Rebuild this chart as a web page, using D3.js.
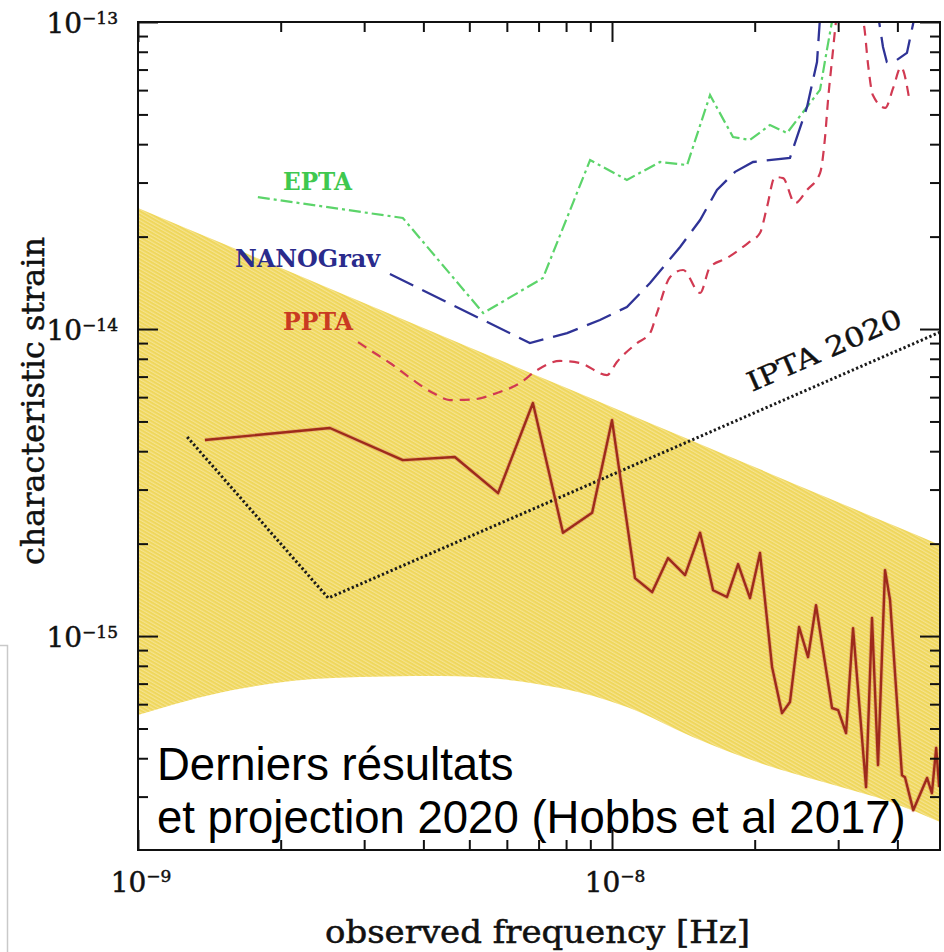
<!DOCTYPE html>
<html lang="fr">
<head>
<meta charset="utf-8">
<title>Characteristic strain vs observed frequency</title>
<script src="https://cdn.jsdelivr.net/npm/d3@7/dist/d3.min.js"></script>
<style>
  html, body { margin: 0; padding: 0; background: #ffffff; }
  svg { display: block; }
</style>
</head>
<body>
<svg id="chart" width="944" height="952"></svg>
<script>
// ---------------- Data: frequency in Hz, characteristic strain ----------------

const freqDomain = [1e-9, 4.92e-8];
const strainDomain = [2.01e-16, 1e-13];

// Current upper limit (solid dark red)
const limitFreq = [1.384e-9, 2.54e-9, 3.62e-9, 4.66e-9, 5.75e-9, 6.81e-9, 7.88e-9, 9.08e-9, 1.0e-8,
  1.118e-8, 1.215e-8, 1.313e-8, 1.426e-8, 1.534e-8, 1.634e-8, 1.748e-8, 1.845e-8, 1.955e-8, 2.052e-8,
  2.176e-8, 2.284e-8, 2.374e-8, 2.481e-8, 2.592e-8, 2.694e-8, 2.912e-8, 3.0e-8, 3.117e-8, 3.225e-8,
  3.435e-8, 3.536e-8, 3.641e-8, 3.767e-8, 3.86e-8, 4.09e-8, 4.15e-8, 4.32e-8, 4.62e-8, 4.73e-8,
  4.83e-8, 4.9e-8];
const limitStrain = [4.35e-15, 4.76e-15, 3.74e-15, 3.83e-15, 2.92e-15, 5.74e-15, 2.17e-15, 2.52e-15, 5.05e-15,
  1.545e-15, 1.39e-15, 1.795e-15, 1.58e-15, 2.17e-15, 1.41e-15, 1.34e-15, 1.716e-15, 1.33e-15, 1.865e-15,
  7.93e-16, 5.61e-16, 6.10e-16, 1.07e-15, 8.54e-16, 1.26e-15, 5.83e-16, 5.74e-16, 4.83e-16, 1.06e-15,
  3.22e-16, 1.145e-15, 3.80e-16, 1.64e-15, 1.31e-15, 3.52e-16, 3.47e-16, 2.71e-16, 3.45e-16, 3.08e-16,
  4.32e-16, 3.22e-16];

// PPTA (short dashes)
const pptaFreq = [2.912e-9, 3.087e-9, 3.401e-9, 3.804e-9, 4.193e-9, 4.55e-9, 5.09e-9, 5.72e-9, 6.40e-9,
  6.95e-9, 7.77e-9, 8.56e-9, 9.76e-9, 1.024e-8, 1.129e-8, 1.203e-8, 1.244e-8, 1.326e-8, 1.412e-8,
  1.534e-8, 1.61e-8, 1.748e-8, 1.936e-8, 2.052e-8, 2.123e-8, 2.207e-8, 2.295e-8, 2.433e-8, 2.579e-8,
  2.747e-8, 2.815e-8, 2.856e-8, 2.912e-8, 2.984e-8, 3.18e-8, 3.40e-8, 3.47e-8, 3.55e-8, 3.77e-8,
  3.92e-8, 4.07e-8, 4.25e-8];
const pptaStrain = [9.07e-15, 8.54e-15, 7.75e-15, 6.82e-15, 6.19e-15, 5.87e-15, 5.90e-15, 6.19e-15, 6.67e-15,
  7.35e-15, 7.87e-15, 7.75e-15, 7.08e-15, 7.81e-15, 9.00e-15, 9.70e-15, 1.127e-14, 1.477e-14, 1.557e-14,
  1.31e-14, 1.592e-14, 1.703e-14, 1.906e-14, 2.055e-14, 2.497e-14, 3.127e-14, 3.10e-14, 2.57e-14, 2.836e-14,
  3.22e-14, 4.22e-14, 5.57e-14, 7.52e-14, 1.05e-13, 1.3e-13, 9.78e-14, 7.24e-14, 5.78e-14, 5.25e-14,
  6.10e-14, 7.13e-14, 5.45e-14];

// NANOGrav (long dashes)
const nanogravFreq = [3.40e-9, 6.71e-9, 8.04e-9, 9.43e-9, 1.075e-8, 1.203e-8, 1.392e-8, 1.534e-8, 1.665e-8,
  1.818e-8, 1.984e-8, 2.374e-8, 2.579e-8, 2.707e-8, 2.75e-8, 3.18e-8, 3.64e-8, 3.73e-8, 3.80e-8,
  3.99e-8, 4.19e-8, 4.36e-8];
const nanogravStrain = [1.51e-14, 9.00e-15, 9.70e-15, 1.07e-14, 1.18e-14, 1.412e-14, 1.85e-14, 2.265e-14, 2.836e-14,
  3.25e-14, 3.50e-14, 3.61e-14, 5.29e-14, 7.41e-14, 1.06e-13, 1.4e-13, 1.06e-13, 8.29e-14, 7.41e-14,
  7.52e-14, 7.93e-14, 1.06e-13];

// EPTA (dash-dot)
const eptaFreq = [1.79e-9, 3.62e-9, 5.35e-9, 7.15e-9, 8.99e-9, 1.075e-8, 1.263e-8, 1.44e-8, 1.61e-8,
  1.80e-8, 1.955e-8, 2.154e-8, 2.34e-8, 2.579e-8, 2.747e-8, 2.84e-8, 2.93e-8];
const eptaStrain = [2.69e-14, 2.30e-14, 1.127e-14, 1.466e-14, 3.55e-14, 3.06e-14, 3.50e-14, 3.42e-14, 5.78e-14,
  4.22e-14, 4.13e-14, 4.62e-14, 4.35e-14, 5.29e-14, 6.01e-14, 8.10e-14, 1.06e-13];

// IPTA 2020 projected sensitivity (dotted)
const iptaFreq = [1.27e-9, 2.52e-9, 4.92e-8];
const iptaStrain = [4.45e-15, 1.33e-15, 9.77e-15];

// Predicted background band: upper edge and lower edge
const bandUpperFreq = [1e-9, 4.92e-8];
const bandUpperStrain = [2.48e-14, 1.98e-15];
const bandLowerFreq = [1.0e-9, 1.586e-9, 2.58e-9, 4.34e-9, 7.77e-9, 1.075e-8, 1.48e-8, 2.052e-8, 2.84e-8, 3.92e-8, 4.92e-8];
const bandLowerStrain = [5.53e-16, 6.67e-16, 7.30e-16, 7.41e-16, 6.77e-16, 5.87e-16, 4.69e-16, 3.86e-16, 3.32e-16, 2.86e-16, 2.48e-16];

// Ticks and labels
const xMajorTicks = [1e-9, 1e-8];
const xTickExponents = ["\u22129", "\u22128"];
const xMinorTicks = [2e-9, 3e-9, 4e-9, 5e-9, 6e-9, 7e-9, 8e-9, 9e-9, 2e-8, 3e-8, 4e-8];
const yMajorTicks = [1e-13, 1e-14, 1e-15];
const yTickExponents = ["\u221213", "\u221214", "\u221215"];
const yMinorTicks = [9e-14, 8e-14, 7e-14, 6e-14, 5e-14, 4e-14, 3e-14, 2e-14,
  9e-15, 8e-15, 7e-15, 6e-15, 5e-15, 4e-15, 3e-15, 2e-15,
  9e-16, 8e-16, 7e-16, 6e-16, 5e-16, 4e-16, 3e-16];

const seriesLabels = ["EPTA", "NANOGrav", "PPTA"];
const projectionLabel = "IPTA 2020";
const xTitle = "observed frequency [Hz]";
const yTitle = "characteristic strain";
const noteLines = ["Derniers r\u00e9sultats", "et projection 2020 (Hobbs et al 2017)"];

// ---------------- Layout ----------------
const plot = { left: 138, right: 940, top: 22, bottom: 850 };
const serif = "'DejaVu Serif', 'Liberation Serif', serif";
const sans = "'Liberation Sans', Arial, sans-serif";

const svg = d3.select("#chart");

const x = d3.scaleLog().domain(freqDomain).range([plot.left, plot.right]);
const y = d3.scaleLog().domain(strainDomain).range([plot.bottom, plot.top]);

const zip = (fs, hs) => fs.map((f, i) => [f, hs[i]]);
const line = d3.line().x(d => x(d[0])).y(d => y(d[1]));

const defs = svg.append("defs");
defs.append("clipPath").attr("id", "plot-clip")
  .append("rect")
  .attr("x", plot.left).attr("y", plot.top)
  .attr("width", plot.right - plot.left).attr("height", plot.bottom - plot.top);

// fine diagonal hatching used inside the band
const hatch = defs.append("pattern").attr("id", "band-hatch")
  .attr("patternUnits", "userSpaceOnUse").attr("width", 3.2).attr("height", 3.2)
  .attr("patternTransform", "rotate(-60)");
hatch.append("rect").attr("width", 3.2).attr("height", 3.2).attr("fill", "#efd75c");
hatch.append("line").attr("x1", 0.6).attr("y1", 0).attr("x2", 0.6).attr("y2", 3.2)
  .attr("stroke", "#f6e494").attr("stroke-width", 1.1);

// faint frame of a neighbouring panel at the left edge
svg.append("path")
  .attr("d", "M0,645.5 H7.5 V952")
  .attr("fill", "none").attr("stroke", "#c9c9c9").attr("stroke-width", 1.5);

const g = svg.append("g").attr("clip-path", "url(#plot-clip)");

// band between the two edges
const upper = zip(bandUpperFreq, bandUpperStrain);
const lower = zip(bandLowerFreq, bandLowerStrain);
const upperAt = f => {
  const t = (Math.log10(f) - Math.log10(upper[0][0])) / (Math.log10(upper[1][0]) - Math.log10(upper[0][0]));
  return Math.pow(10, Math.log10(upper[0][1]) + t * (Math.log10(upper[1][1]) - Math.log10(upper[0][1])));
};
const bandArea = d3.area()
  .x(d => x(d[0]))
  .y0(d => y(d[1]))
  .y1(d => y(upperAt(d[0])))
  .curve(d3.curveMonotoneX);
g.append("path").datum(lower)
  .attr("d", bandArea)
  .attr("fill", "url(#band-hatch)");

// IPTA 2020 dotted projection
g.append("path").datum(zip(iptaFreq, iptaStrain))
  .attr("d", line)
  .attr("fill", "none").attr("stroke", "#1a1a1a")
  .attr("stroke-width", 3).attr("stroke-dasharray", "2.3,2.4");

// EPTA
g.append("path").datum(zip(eptaFreq, eptaStrain))
  .attr("d", line)
  .attr("fill", "none").attr("stroke", "#5cd46a")
  .attr("stroke-width", 2.2).attr("stroke-dasharray", "12,4,3,4");

// NANOGrav
g.append("path").datum(zip(nanogravFreq, nanogravStrain))
  .attr("d", line)
  .attr("fill", "none").attr("stroke", "#2f3396")
  .attr("stroke-width", 2.3).attr("stroke-dasharray", "26,10");

// PPTA
g.append("path").datum(zip(pptaFreq, pptaStrain))
  .attr("d", d3.line().x(d => x(d[0])).y(d => y(d[1])).curve(d3.curveMonotoneX))
  .attr("fill", "none").attr("stroke", "#d13a52")
  .attr("stroke-width", 2.2).attr("stroke-dasharray", "10,7");

// current limit
g.append("path").datum(zip(limitFreq, limitStrain))
  .attr("d", line)
  .attr("fill", "none").attr("stroke", "#d06a4a").attr("stroke-opacity", 0.35)
  .attr("stroke-width", 4.2).attr("stroke-linejoin", "round");
g.append("path").datum(zip(limitFreq, limitStrain))
  .attr("d", line)
  .attr("fill", "none").attr("stroke", "#9e2a1c")
  .attr("stroke-width", 2.4).attr("stroke-linejoin", "round");

// curve labels
const labelStyle = [
  { text: seriesLabels[0], x: 283, y: 190, len: 69, fill: "#3fc84f" },
  { text: seriesLabels[1], x: 235, y: 267, len: 145, fill: "#2a2b8c" },
  { text: seriesLabels[2], x: 283, y: 330, len: 70, fill: "#c93a22" }
];
labelStyle.forEach(s => {
  svg.append("text")
    .attr("x", s.x).attr("y", s.y)
    .attr("font-family", serif).attr("font-weight", "bold").attr("font-size", 24)
    .attr("textLength", s.len).attr("lengthAdjust", "spacingAndGlyphs")
    .attr("fill", s.fill).text(s.text);
});

svg.append("text")
  .attr("transform", "translate(752,392) rotate(-23.6)")
  .attr("font-family", serif).attr("font-size", 27)
  .attr("textLength", 166).attr("lengthAdjust", "spacingAndGlyphs")
  .attr("fill", "#111").attr("stroke", "#111").attr("stroke-width", 0.4)
  .text(projectionLabel);

// frame
svg.append("rect")
  .attr("x", plot.left).attr("y", plot.top)
  .attr("width", plot.right - plot.left).attr("height", plot.bottom - plot.top)
  .attr("fill", "none").attr("stroke", "#111").attr("stroke-width", 2);

// inward ticks on all four sides
function ticks(axis, transform, values, size) {
  svg.append("g").attr("transform", transform)
    .call(axis.tickValues(values).tickSize(size).tickFormat(() => ""))
    .call(a => a.select(".domain").remove())
    .call(a => a.selectAll("line").attr("stroke", "#111").attr("stroke-width", 2));
}
ticks(d3.axisBottom(x), `translate(0,${plot.bottom})`, xMinorTicks, -10);
ticks(d3.axisBottom(x), `translate(0,${plot.bottom})`, xMajorTicks, -20);
ticks(d3.axisTop(x), `translate(0,${plot.top})`, xMinorTicks, -10);
ticks(d3.axisTop(x), `translate(0,${plot.top})`, xMajorTicks, -20);
ticks(d3.axisLeft(y), `translate(${plot.left},0)`, yMinorTicks, -10);
ticks(d3.axisLeft(y), `translate(${plot.left},0)`, yMajorTicks, -20);
ticks(d3.axisRight(y), `translate(${plot.right},0)`, yMinorTicks, -10);
ticks(d3.axisRight(y), `translate(${plot.right},0)`, yMajorTicks, -20);

// tick labels: 10 with superscript exponent
const inkStroke = sel => sel.attr("fill", "#111").attr("stroke", "#111").attr("stroke-width", 0.5);
xMajorTicks.forEach((v, i) => {
  const t = svg.append("text")
    .attr("x", x(v) + 3).attr("y", 892)
    .attr("text-anchor", "middle")
    .attr("font-family", serif).attr("font-size", 28).call(inkStroke);
  t.append("tspan").text("10");
  t.append("tspan").attr("dy", -10).attr("font-size", 17).text(xTickExponents[i]);
});
yMajorTicks.forEach((v, i) => {
  const t = svg.append("text")
    .attr("x", 118).attr("y", y(v) + 11)
    .attr("text-anchor", "end")
    .attr("font-family", serif).attr("font-size", 28).call(inkStroke);
  t.append("tspan").text("10");
  t.append("tspan").attr("dy", -9).attr("font-size", 17).text(yTickExponents[i]);
});

// axis titles
svg.append("text")
  .attr("x", 325).attr("y", 943)
  .attr("font-family", serif).attr("font-size", 31)
  .attr("textLength", 425).attr("lengthAdjust", "spacingAndGlyphs")
  .call(inkStroke).text(xTitle);
svg.append("text")
  .attr("transform", "translate(44,565) rotate(-90)")
  .attr("font-family", serif).attr("font-size", 31)
  .attr("textLength", 328).attr("lengthAdjust", "spacingAndGlyphs")
  .call(inkStroke).text(yTitle);

// note
noteLines.forEach((s, i) => {
  svg.append("text")
    .attr("x", 157).attr("y", 780 + i * 53)
    .attr("font-family", sans).attr("font-size", 45.5)
    .attr("fill", "#000").text(s);
});
</script>
</body>
</html>
